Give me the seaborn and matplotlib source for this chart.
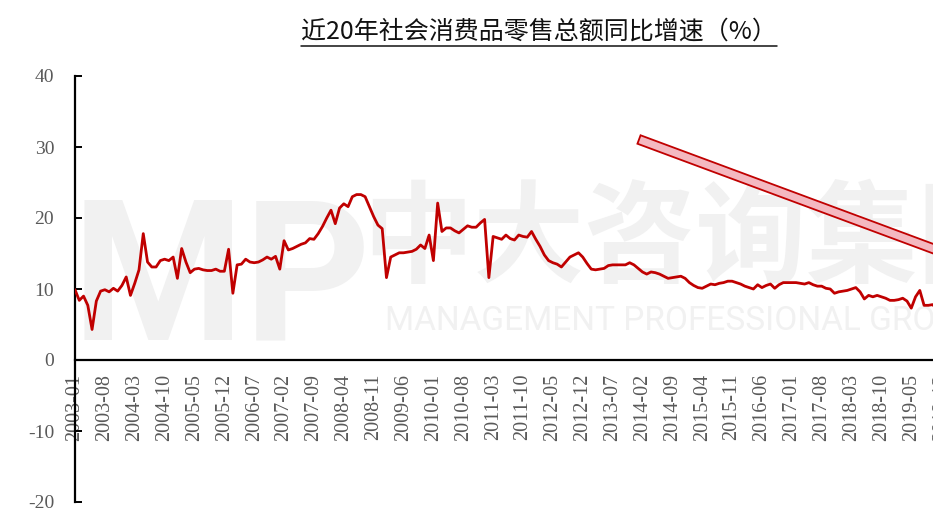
import numpy as np
import pandas as pd
import matplotlib
matplotlib.use("Agg")
import matplotlib.pyplot as plt
import seaborn as sns
from matplotlib.patches import Polygon
from matplotlib.lines import Line2D

# ---------------- data ----------------
title = "近20年社会消费品零售总额同比增速（%）"
start_month = "2003-01"
growth = [
    # 2003
    9.9, 8.4, 9.0, 7.7, 4.3, 8.3, 9.7, 9.9, 9.6, 10.1, 9.7, 10.5,
    # 2004
    11.7, 9.1, 10.8, 12.7, 17.8, 13.8, 13.1, 13.1, 14.0, 14.2, 14.0, 14.5,
    # 2005
    11.5, 15.7, 13.8, 12.3, 12.8, 12.9, 12.7, 12.6, 12.6, 12.8, 12.5, 12.5,
    # 2006
    15.6, 9.4, 13.4, 13.5, 14.2, 13.8, 13.7, 13.8, 14.1, 14.5, 14.2, 14.6,
    # 2007
    12.8, 16.8, 15.5, 15.7, 16.0, 16.3, 16.5, 17.1, 17.0, 17.8, 18.8, 20.0,
    # 2008
    21.1, 19.2, 21.4, 22.0, 21.6, 23.0, 23.3, 23.3, 23.0, 21.6, 20.2, 19.0,
    # 2009
    18.5, 11.6, 14.5, 14.8, 15.1, 15.1, 15.2, 15.3, 15.6, 16.2, 15.7, 17.6,
    # 2010
    14.0, 22.1, 18.1, 18.6, 18.6, 18.2, 17.9, 18.4, 18.9, 18.7, 18.7, 19.3,
    # 2011
    19.8, 11.6, 17.4, 17.2, 17.0, 17.6, 17.1, 16.9, 17.6, 17.4, 17.3, 18.1,
    # 2012
    17.0, 16.0, 14.8, 14.0, 13.7, 13.5, 13.1, 13.8, 14.5, 14.8, 15.1, 14.5,
    # 2013
    13.6, 12.8, 12.7, 12.8, 12.9, 13.3, 13.4, 13.4, 13.4, 13.4, 13.7, 13.4,
    # 2014
    12.9, 12.4, 12.1, 12.4, 12.3, 12.1, 11.8, 11.5, 11.6, 11.7, 11.8, 11.5,
    # 2015
    10.9, 10.5, 10.2, 10.1, 10.4, 10.7, 10.6, 10.8, 10.9, 11.1, 11.1, 10.9,
    # 2016
    10.7, 10.4, 10.2, 10.0, 10.6, 10.2, 10.5, 10.7, 10.1, 10.6, 10.9, 10.9,
    # 2017
    10.9, 10.9, 10.8, 10.7, 10.9, 10.6, 10.4, 10.4, 10.1, 10.0, 9.4, 9.6,
    # 2018
    9.7, 9.8, 10.0, 10.2, 9.6, 8.6, 9.1, 8.9, 9.1, 8.9, 8.7, 8.4,
    # 2019
    8.4, 8.5, 8.7, 8.3, 7.3, 8.9, 9.8, 7.7, 7.7, 7.8, 7.2, 8.2,
]
tick_step = 7
tick_labels = [
    "2003-01", "2003-08", "2004-03", "2004-10", "2005-05", "2005-12",
    "2006-07", "2007-02", "2007-09", "2008-04", "2008-11", "2009-06",
    "2010-01", "2010-08", "2011-03", "2011-10", "2012-05", "2012-12",
    "2013-07", "2014-02", "2014-09", "2015-04", "2015-11", "2016-06",
    "2017-01", "2017-08", "2018-03", "2018-10", "2019-05", "2019-12",
]
y_ticks = [-20, -10, 0, 10, 20, 30, 40]
watermark_logo = "MP"
watermark_cn = "中大咨询集团"
watermark_en = "MANAGEMENT PROFESSIONAL GROUP"

# ---------------- style ----------------
sns.set_theme(style="white")
plt.rcParams["font.family"] = ["Liberation Serif", "DejaVu Serif"]

months = pd.period_range(start_month, periods=len(growth), freq="M")
df = pd.DataFrame({"idx": np.arange(len(growth)),
                   "month": months.astype(str),
                   "growth": growth})

W, H = 933, 525
fig = plt.figure(figsize=(W / 100, H / 100), dpi=100)
fig.patch.set_facecolor("white")
# axes deliberately extends past the right edge (the reference is cropped)
ax = fig.add_axes([75 / W, 23 / H, 1024 / W, 426 / H])
ax.patch.set_visible(False)

wm_color = "#f1f1f1"
ax.text(72 / W, 1 - 340 / H, watermark_logo, transform=fig.transFigure,
        fontsize=142, fontweight="bold", family=["Roboto", "DejaVu Sans"],
        color=wm_color, ha="left", va="baseline", zorder=0)
ax.text(362 / W, 1 - 242 / H, watermark_cn, transform=fig.transFigure,
        fontsize=80, fontweight="bold", family=["Noto Sans CJK SC"],
        color=wm_color, ha="left", va="center", zorder=0)
ax.text(385 / W, 1 - 321 / H, watermark_en, transform=fig.transFigure,
        fontsize=24, family=["Roboto", "DejaVu Sans"],
        color=wm_color, ha="left", va="center", zorder=0)

sns.lineplot(data=df, x="idx", y="growth", ax=ax, color="#c00000",
             linewidth=2.0, zorder=3)

ax.set_xlim(0, 240)
ax.set_ylim(-20, 40)
ax.set_yticks(y_ticks)
ax.set_yticklabels([str(v) for v in y_ticks])
ax.set_xticks(np.arange(len(tick_labels)) * tick_step)
ax.set_xticklabels(tick_labels)
ax.set_xlabel("")
ax.set_ylabel("")

for s in ("top", "right"):
    ax.spines[s].set_visible(False)
ax.spines["bottom"].set_position(("data", 0))
for s in ("left", "bottom"):
    ax.spines[s].set_color("black")
    ax.spines[s].set_linewidth(1.6)

ax.tick_params(axis="y", direction="in", length=5, width=1.4, color="black",
               labelsize=14, labelcolor="#595959", pad=15, left=True)
ax.tick_params(axis="x", length=0, labelsize=14.5, labelcolor="#595959",
               pad=10, labelrotation=90)
for lab in ax.get_xticklabels():
    lab.set_rotation(90)
    lab.set_ha("center")
    lab.set_va("top")

# decorative downward band (in pixel space, converted to figure fraction)
p0 = np.array([639.0, 139.5])
p1 = np.array([1000.0, 273.5])
d = (p1 - p0) / np.linalg.norm(p1 - p0)
n = np.array([-d[1], d[0]])
half = 4.5
corners = [p0 - n * half, p1 - n * half, p1 + n * half, p0 + n * half]
corners = [(c[0] / W, 1 - c[1] / H) for c in corners]
band = Polygon(corners, closed=True, transform=fig.transFigure,
               facecolor="#f4b8c0", edgecolor="#c00000", linewidth=1.3,
               clip_on=False, zorder=4)
fig.add_artist(band)

# title with underline
t = fig.text(539 / W, 1 - 32 / H, title, ha="center", va="center",
             fontsize=18, family=["Noto Sans CJK SC", "DejaVu Sans"],
             color="#111111")
fig.canvas.draw()
bb = t.get_window_extent(renderer=fig.canvas.get_renderer())
uy = (bb.y0 - 1) / H
fig.add_artist(Line2D([bb.x0 / W, bb.x1 / W], [uy, uy], color="#111111",
                      linewidth=1.1, transform=fig.transFigure))

fig.savefig("out.png", dpi=100)
